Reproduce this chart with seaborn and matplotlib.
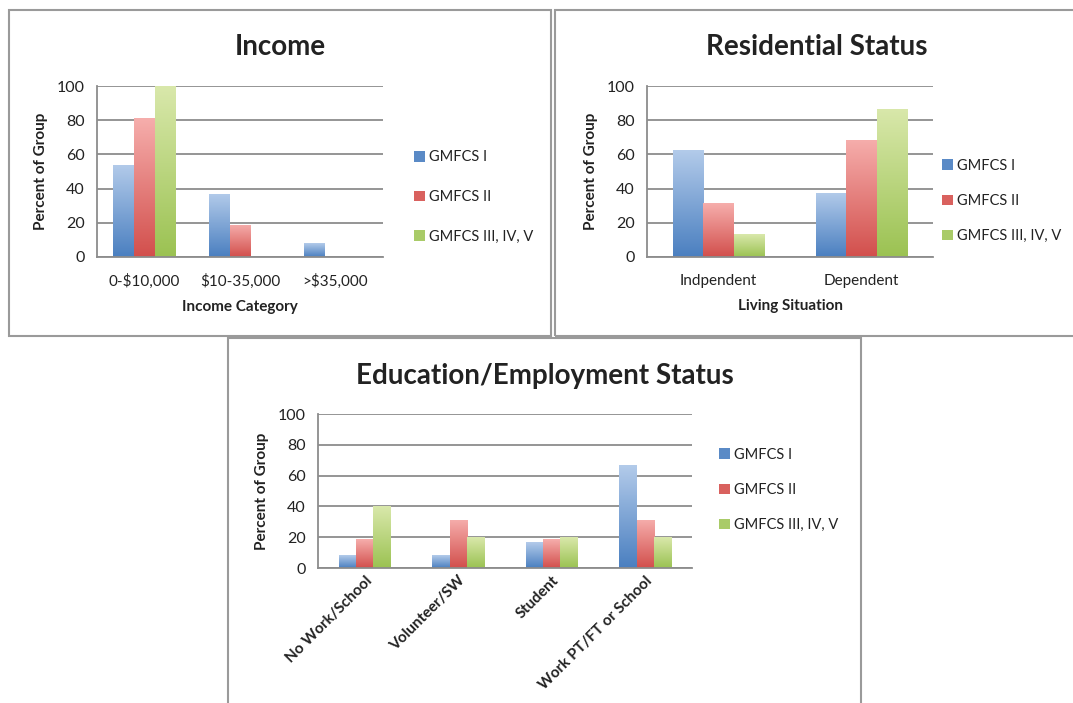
import numpy as np
import pandas as pd
import matplotlib
matplotlib.use("Agg")
import matplotlib.pyplot as plt
import seaborn as sns
from matplotlib.patches import Rectangle, Patch
from matplotlib.colors import LinearSegmentedColormap

# ---- data ----
groups = ["GMFCS I", "GMFCS II", "GMFCS III, IV, V"]

income_cats = ["0-$10,000", "$10-35,000", ">$35,000"]
income_g1 = [54, 37, 8]
income_g2 = [81, 19, 0]
income_g3 = [100, 0, 0]

living_cats = ["Indpendent", "Dependent"]
living_g1 = [62.5, 37.5]
living_g2 = [31.3, 68.7]
living_g3 = [13.3, 86.7]

edu_cats = ["No Work/School", "Volunteer/SW", "Student", "Work PT/FT or School"]
edu_g1 = [8.3, 8.3, 16.7, 66.7]
edu_g2 = [18.8, 31.3, 18.8, 31.3]
edu_g3 = [40, 20, 20, 20]

# ---- style ----
sns.set_style("white")
plt.rcParams["font.family"] = ["Lato", "DejaVu Sans"]
plt.rcParams["text.parse_math"] = False

W, H = 1073, 703
fig = plt.figure(figsize=(W / 100, H / 100), dpi=100)
fig.patch.set_facecolor("white")

base_colors = ["#4f81bd", "#c0504d", "#9bbb59"]
grad_pairs = [("#4a7fc0", "#b3cbea"), ("#d24f4c", "#f6aeac"), ("#9bc252", "#d9e8ab")]
cmaps = [LinearSegmentedColormap.from_list(f"g{i}", list(p)) for i, p in enumerate(grad_pairs)]
grad = np.linspace(0, 1, 256).reshape(-1, 1)
TXT = "#222222"
AXC = "#8c8c8c"


def fig_box(x0, y0, x1, y1):
    return [x0 / W, 1 - y1 / H, (x1 - x0) / W, (y1 - y0) / H]


def long_frame(cats, series):
    rows = []
    for g, vals in zip(groups, series):
        for c, v in zip(cats, vals):
            rows.append({"cat": c, "group": g, "value": v})
    return pd.DataFrame(rows)


def draw_panel(ax, cats, series, width, xlabel, rotate=False):
    df = long_frame(cats, series)
    sns.barplot(data=df, x="cat", y="value", hue="group", hue_order=groups,
                order=cats, palette=base_colors, width=width, ax=ax,
                legend=False, saturation=1, errorbar=None)
    # vertical gradient fill clipped to each bar
    n = len(cats)
    for i, patch in enumerate(ax.patches):
        gi = i // n
        x0, y0 = patch.get_x(), patch.get_y()
        w, h = patch.get_width(), patch.get_height()
        if h <= 0:
            patch.set_visible(False)
            continue
        im = ax.imshow(grad, cmap=cmaps[gi], origin="lower", aspect="auto",
                       extent=[x0, x0 + w, y0, y0 + h], zorder=2)
        im.set_clip_path(patch)
        patch.set_facecolor("none")
        patch.set_edgecolor("none")
    ax.set_xlim(-0.5, n - 0.5)
    ax.set_ylim(0, 100)
    ax.set_yticks([0, 20, 40, 60, 80, 100])
    ax.set_axisbelow(True)
    ax.yaxis.grid(True, color=AXC, lw=1.3)
    ax.xaxis.grid(False)
    for s in ["top", "right"]:
        ax.spines[s].set_visible(False)
    for s in ["left", "bottom"]:
        ax.spines[s].set_color(AXC)
        ax.spines[s].set_linewidth(1.3)
    ax.set_xticks(np.arange(-0.5, n, 1.0), minor=True)
    ax.tick_params(axis="x", which="major", length=0, labelsize=11,
                   pad=4 if rotate else 12, colors=TXT)
    ax.tick_params(axis="x", which="minor", length=5, width=1.3,
                   color=AXC, direction="out")
    ax.tick_params(axis="y", length=5, width=1.3, color=AXC,
                   labelsize=11.5, pad=4, labelcolor=TXT)
    if rotate:
        for lab in ax.get_xticklabels():
            lab.set_rotation(45)
            lab.set_ha("right")
            lab.set_rotation_mode("anchor")
            lab.set_fontweight("bold")
            lab.set_fontsize(11)
    ax.set_ylabel("Percent of Group", fontsize=11, fontweight="bold",
                  color=TXT, labelpad=6)
    ax.set_xlabel(xlabel, fontsize=11, fontweight="bold", color=TXT,
                  labelpad=8)


def panel_legend(ax, x, y, spacing):
    handles = [Patch(facecolor=c, edgecolor="none") for c in
               ["#5a8ac6", "#d9615e", "#a9cb68"]]
    ax.legend(handles, groups, loc="center left",
              bbox_to_anchor=(x / W, 1 - y / H), bbox_transform=fig.transFigure,
              frameon=False, fontsize=10.5, handlelength=0.75, handleheight=0.75,
              handletextpad=0.3, labelspacing=spacing, borderaxespad=0,
              labelcolor=TXT)


# panel borders
for (x0, y0, x1, y1) in [(9, 10, 551, 336), (555, 10, 1076, 336), (228, 338, 861, 706)]:
    fig.patches.append(Rectangle((x0 / W, 1 - y1 / H), (x1 - x0) / W, (y1 - y0) / H,
                                 transform=fig.transFigure, fill=False,
                                 edgecolor="#9a9a9a", lw=1.5))

ax1 = fig.add_axes(fig_box(97, 86, 383, 257))
draw_panel(ax1, income_cats, [income_g1, income_g2, income_g3], 0.66, "Income Category")
panel_legend(ax1, 408, 197, 1.75)
fig.text(280 / W, 1 - 47 / H, "Income", ha="center", va="center",
         fontsize=20, fontweight="bold", color=TXT)

ax2 = fig.add_axes(fig_box(647, 86, 933, 257))
draw_panel(ax2, living_cats, [living_g1, living_g2, living_g3], 0.63, "Living Situation")
panel_legend(ax2, 936, 201, 1.45)
fig.text(817 / W, 1 - 47 / H, "Residential Status", ha="center", va="center",
         fontsize=20, fontweight="bold", color=TXT)

ax3 = fig.add_axes(fig_box(318, 414, 692, 568))
draw_panel(ax3, edu_cats, [edu_g1, edu_g2, edu_g3], 0.56, "", rotate=True)
panel_legend(ax3, 713, 490, 1.45)
fig.text(545 / W, 1 - 376 / H, "Education/Employment Status", ha="center", va="center",
         fontsize=20, fontweight="bold", color=TXT)

fig.savefig("out.png", dpi=100, facecolor="white")
